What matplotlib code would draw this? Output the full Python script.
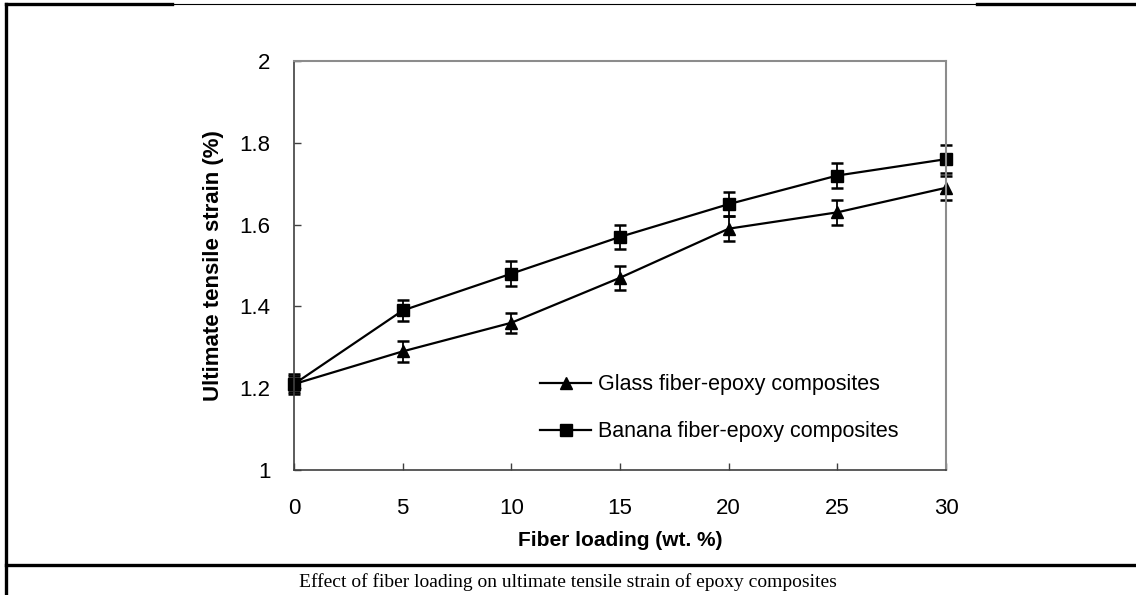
import matplotlib.pyplot as plt
from matplotlib.lines import Line2D

# fiber loading (wt. %)
loading = [0, 5, 10, 15, 20, 25, 30]

glass_strain = [1.21, 1.29, 1.36, 1.47, 1.59, 1.63, 1.69]
glass_err = [0.02, 0.025, 0.025, 0.03, 0.03, 0.03, 0.03]

banana_strain = [1.21, 1.39, 1.48, 1.57, 1.65, 1.72, 1.76]
banana_err = [0.025, 0.025, 0.03, 0.03, 0.03, 0.03, 0.035]

y_ticks = [1, 1.2, 1.4, 1.6, 1.8, 2]
y_tick_labels = ['1', '1.2', '1.4', '1.6', '1.8', '2']

caption = 'Effect of fiber loading on ultimate tensile strain of epoxy composites'

W, H = 1136, 595
fig = plt.figure(figsize=(W / 100, H / 100), dpi=100)
plt.rcParams['font.family'] = ['Liberation Sans', 'DejaVu Sans']

# axes placed from pixel measurements of the reference
left, right, top, bottom = 294, 946, 61, 470
ax = fig.add_axes([left / W, 1 - bottom / H, (right - left) / W, (bottom - top) / H])

for vals, errs, mk, size in [(glass_strain, glass_err, '^', 8.5),
                             (banana_strain, banana_err, 's', 8)]:
    eb = ax.errorbar(loading, vals, yerr=errs, fmt='-' + mk, color='black',
                     lw=1.6, ms=size, capsize=4.5, capthick=1.8, elinewidth=1.3)
    data_line, caps, bars = eb.lines
    for art in [data_line] + list(caps) + list(bars):
        art.set_clip_on(False)

ax.set_xlim(0, 30)
ax.set_ylim(1, 2)
ax.set_xticks(loading)
ax.set_yticks(y_ticks)
ax.set_yticklabels(y_tick_labels)
ax.tick_params(direction='in', length=5, width=1, labelsize=16, color='#404040')
ax.tick_params(axis='x', pad=20)
ax.tick_params(axis='y', pad=17)

for side in ['left', 'bottom']:
    ax.spines[side].set_color('#404040')
    ax.spines[side].set_linewidth(1.2)
for side in ['top', 'right']:
    ax.spines[side].set_color('#8c8c8c')
    ax.spines[side].set_linewidth(1.5)

ax.set_xlabel('Fiber loading (wt. %)', fontsize=15, fontweight='bold', labelpad=9)
ax.set_ylabel('Ultimate tensile strain (%)', fontsize=16, fontweight='bold', labelpad=11)

handles = [Line2D([], [], color='black', lw=1.6, marker='^', ms=8.5),
           Line2D([], [], color='black', lw=1.6, marker='s', ms=8)]
ax.legend(handles, ['Glass fiber-epoxy composites', 'Banana fiber-epoxy composites'],
          loc='upper left', bbox_to_anchor=(0.377, 0.234), frameon=False, fontsize=15.5,
          handlelength=2.4, handletextpad=0.3, labelspacing=1.2, borderpad=0,
          borderaxespad=0)

# surrounding table frame
fig.add_artist(Line2D([6 / W, 6 / W], [0, 1 - 4 / H], transform=fig.transFigure, color='black', lw=2.4))
fig.add_artist(Line2D([6 / W, 172 / W], [1 - 4 / H, 1 - 4 / H], transform=fig.transFigure, color='black', lw=2.4))
fig.add_artist(Line2D([172 / W, 977 / W], [1 - 4 / H, 1 - 4 / H], transform=fig.transFigure, color='black', lw=0.8))
fig.add_artist(Line2D([977 / W, 1], [1 - 4 / H, 1 - 4 / H], transform=fig.transFigure, color='black', lw=2.4))
fig.add_artist(Line2D([6 / W, 1], [1 - 565 / H, 1 - 565 / H], transform=fig.transFigure, color='black', lw=2.4))

fig.text(568 / W, 1 - 582 / H, caption, ha='center', va='center', fontsize=14,
         family=['Liberation Serif', 'DejaVu Serif'])

fig.savefig('out.png', dpi=100)
